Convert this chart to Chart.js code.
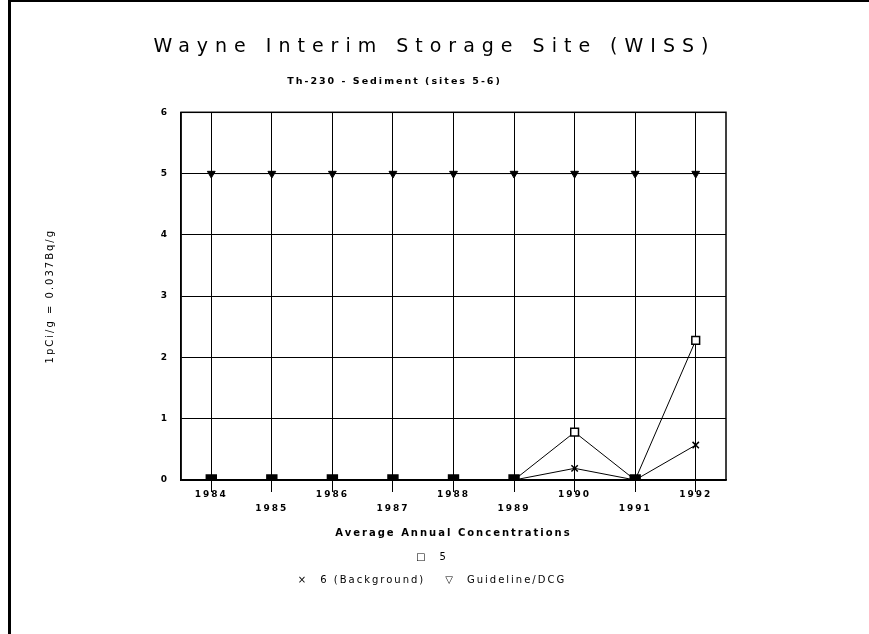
<!DOCTYPE html>
<html>
<head>
<meta charset="utf-8">
<script src="https://cdn.jsdelivr.net/npm/chart.js@4.4.1/dist/chart.umd.min.js"></script>
<style>
  body { margin: 0; background: #fff; }
  #wrap { position: relative; width: 869px; height: 634px; }
  #frame { position: absolute; left: 8px; top: 0; right: 0; bottom: 0;
           border-left: 3px solid #000; border-top: 2px solid #000; pointer-events: none; }
  #legend { position: absolute; left: 0; width: 864px; top: 549px; color: #000;
            font: 10px 'DejaVu Sans', sans-serif; letter-spacing: 2px; text-align: center; }
  #legend div { height: 23px; line-height: 16px; }
  #legend .mk { margin-right: 12px; }
  #legend .item { margin: 0 10px; }
</style>
</head>
<body>
<div id="wrap">
  <canvas id="wissChart"></canvas>
  <div id="legend"></div>
  <div id="frame"></div>
</div>
<script>
// years along the x-axis
var years = ["1984", "1985", "1986", "1987", "1988", "1989", "1990", "1991", "1992"];
// pCi/g per site
var site5 = [0, 0, 0, 0, 0, 0, 0.78, 0, 2.28];
var site6 = [0, 0, 0, 0, 0, 0, 0.19, 0, 0.57];
var guideline = [5, 5, 5, 5, 5, 5, 5, 5, 5];
var seriesNames = ["5", "6 (Background)", "Guideline/DCG"];
var legendMarks = ["\u25A1", "\u00D7", "\u25BD"];
var yMin = 0, yMax = 6, yStep = 1;

var titleText = "Wayne Interim Storage Site (WISS)";
var subtitleText = "Th-230 - Sediment (sites 5-6)";

// every other year label drops one line, like the plotter output
var yearLabels = years.map(function (y, i) { return i % 2 ? ["", y] : y; });

// wraps a title box's draw with its own letter spacing / shift
function wrapBox(chart, box, gap, dx) {
  if (!box || box._spaced) return;
  var draw = box.draw.bind(box);
  box.draw = function (area) {
    var ctx = chart.ctx;
    ctx.save();
    ctx.letterSpacing = gap;
    ctx.translate(dx, 0);
    draw(area);
    ctx.restore();
  };
  box._spaced = true;
}

// letter spacing for the plotter-like text
var spacing = {
  id: 'spacing',
  beforeDraw: function (chart) {
    chart.ctx.letterSpacing = '2px';
    wrapBox(chart, chart.titleBlock, '7px', 0);
    var sub = chart.boxes.filter(function (b) {
      return b !== chart.titleBlock && b.options && b.options.text === subtitleText;
    })[0];
    wrapBox(chart, sub, '2px', -40);
  }
};

// closes the plot box on the right
var plotFrame = {
  id: 'plotFrame',
  beforeDatasetsDraw: function (chart) {
    var a = chart.chartArea, ctx = chart.ctx;
    ctx.save();
    ctx.strokeStyle = '#000';
    ctx.lineWidth = 1.5;
    ctx.strokeRect(a.left, a.top, a.right - a.left, a.bottom - a.top);
    ctx.restore();
  }
};

function zeroFill(ctx) { return ctx.raw === 0 ? '#000' : '#fff'; }
function zeroSize(ctx) { return ctx.raw === 0 ? 7 : 5.5; }

var chart = document.getElementById("wissChart");
var wissChart = new Chart(chart, {
  type: 'line',
  data: {
    labels: yearLabels,
    datasets: [
      {
        label: seriesNames[0],
        data: site5,
        borderColor: '#000',
        borderWidth: 1,
        pointStyle: 'rect',
        pointRadius: zeroSize,
        pointBorderWidth: 1.5,
        pointBorderColor: '#000',
        pointBackgroundColor: zeroFill
      },
      {
        label: seriesNames[1],
        data: site6,
        borderColor: '#000',
        borderWidth: 1,
        pointStyle: 'crossRot',
        pointRadius: 4.5,
        pointBorderWidth: 1.5,
        pointBorderColor: '#000'
      },
      {
        label: seriesNames[2],
        data: guideline,
        borderColor: '#000',
        borderWidth: 1,
        pointStyle: 'triangle',
        pointRotation: 180,
        pointRadius: 4.5,
        pointBorderColor: '#000',
        pointBackgroundColor: '#000'
      }
    ]
  },
  options: {
    responsive: true,
    maintainAspectRatio: false,
    animation: false,
    color: '#000',
    layout: { padding: { left: 0, right: 0, top: 0, bottom: 90 } },
    elements: { line: { tension: 0 } },
    plugins: {
      legend: { display: false },
      tooltip: { enabled: false },
      title: {
        display: true,
        text: titleText,
        color: '#000',
        font: { family: 'DejaVu Sans', size: 19, weight: 'normal', lineHeight: 1.2 },
        padding: { top: 35.6, bottom: 0 }
      },
      subtitle: {
        display: true,
        text: subtitleText,
        color: '#000',
        font: { family: 'DejaVu Sans', size: 9.5, weight: 'bold', lineHeight: 1.2 },
        padding: { top: 17, bottom: 25.5 }
      }
    },
    scales: {
      x: {
        offset: true,
        grid: { color: '#000', lineWidth: 1, offset: false, drawTicks: true, tickLength: 12 },
        border: { color: '#000', width: 1.5 },
        ticks: {
          color: '#000', padding: -4, maxRotation: 0, autoSkip: false,
          font: { family: 'DejaVu Sans', size: 9, weight: 'bold', lineHeight: 1.5 }
        },
        title: {
          display: true,
          text: 'Average Annual Concentrations',
          color: '#000',
          font: { family: 'DejaVu Sans', size: 10, weight: 'bold', lineHeight: 1.2 },
          padding: { top: 0, bottom: 5 }
        },
        afterFit: function (scale) { scale.height = 64; }
      },
      y: {
        min: yMin,
        max: yMax,
        grid: { color: '#000', lineWidth: 1, drawTicks: false },
        border: { color: '#000', width: 1.5 },
        ticks: {
          stepSize: yStep, color: '#000', padding: 12,
          font: { family: 'DejaVu Sans', size: 9, weight: 'bold' }
        },
        title: {
          display: true,
          text: '1pCi/g = 0.037Bq/g',
          color: '#000',
          font: { family: 'DejaVu Sans', size: 10, weight: 'normal', lineHeight: 1.2 },
          padding: { top: 44, bottom: 0 }
        },
        afterFit: function (scale) { scale.width = 181; }
      },
      // empty right-hand margin so the titles centre on the page
      margin: {
        type: 'linear',
        position: 'right',
        min: yMin,
        max: yMax,
        grid: { display: false, drawOnChartArea: false },
        border: { display: false },
        ticks: { display: false },
        afterFit: function (scale) { scale.width = 143; }
      }
    }
  },
  plugins: [spacing, plotFrame]
});

// legend: first series on its own row, the other two below
function legendItem(i) {
  return '<span class="item"><span class="mk">' + legendMarks[i] + '</span>' + seriesNames[i] + '</span>';
}
document.getElementById("legend").innerHTML =
  '<div>' + legendItem(0) + '</div><div>' + legendItem(1) + legendItem(2) + '</div>';
</script>
</body>
</html>
